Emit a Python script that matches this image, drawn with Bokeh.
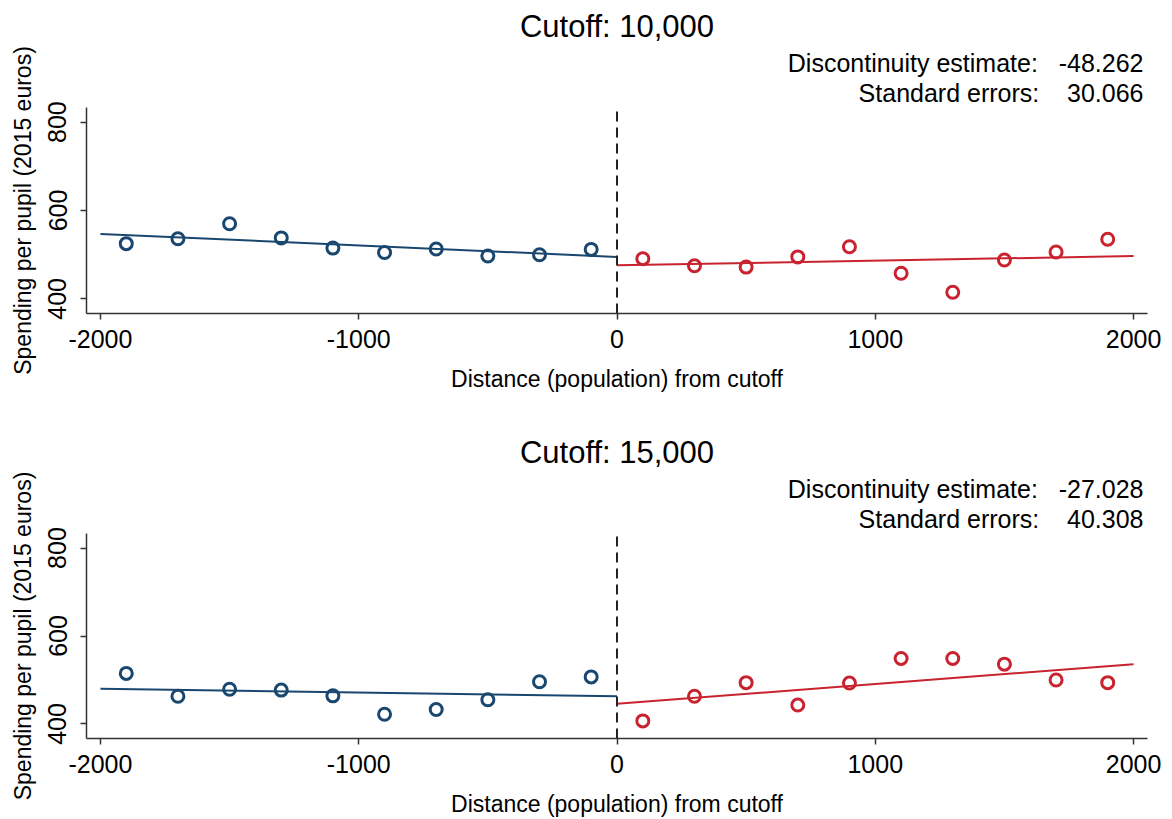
from bokeh.plotting import figure
from bokeh.layouts import column
from bokeh.models import Title, FixedTicker, Range1d, PrintfTickFormatter
from bokeh.embed import file_html
from bokeh.resources import INLINE

# ---- data ----
bins_left = [-1900, -1700, -1500, -1300, -1100, -900, -700, -500, -300, -100]
bins_right = [100, 300, 500, 700, 900, 1100, 1300, 1500, 1700, 1900]

# Cutoff 10,000
p1_left_y = [525, 536, 570, 538, 515, 505, 513, 497, 500, 512]
p1_right_y = [491, 475, 472, 495, 518, 458, 415, 488, 506, 535]
p1_fit_left_x = [-2000, 0]
p1_fit_left_y = [547, 495]
p1_fit_right_x = [0, 2000]
p1_fit_right_y = [476, 497]

# Cutoff 15,000
p2_left_y = [515, 463, 479, 477, 464, 422, 433, 455, 496, 507]
p2_right_y = [407, 463, 494, 443, 493, 549, 549, 536, 500, 494]
p2_fit_left_x = [-2000, 0]
p2_fit_left_y = [480, 463]
p2_fit_right_x = [0, 2000]
p2_fit_right_y = [446, 536]

titles = ["Cutoff: 10,000", "Cutoff: 15,000"]
estimates = ["-48.262", "-27.028"]
std_errors = ["30.066", "40.308"]
x_ticks = [-2000, -1000, 0, 1000, 2000]
y_ticks = [400, 600, 800]
cutoff = 0
y_lo, y_hi = 367, 833
x_lo, x_hi = -2054, 2054

BLUE = "#1a476f"
RED = "#c8232f"
FONT = "Liberation Sans"
NB = "\u00a0"

W = 1172
FRAME_H = 206


def make_panel(height, top, left_y, right_y, fl, fr, title, est, se):
    p = figure(width=W, height=height, output_backend="svg", toolbar_location=None,
               x_range=Range1d(x_lo, x_hi), y_range=Range1d(y_lo, y_hi),
               min_border_left=86, min_border_right=25,
               min_border_top=top, min_border_bottom=height - top - FRAME_H)
    p.outline_line_color = None
    p.xgrid.visible = False
    p.ygrid.visible = False
    p.background_fill_color = "white"
    p.border_fill_color = "white"

    # header texts
    p.title.text = title
    p.title.align = "center"
    p.title.text_font = FONT
    p.title.text_font_size = "31px"
    p.title.text_font_style = "normal"
    p.title.text_color = "black"
    p.title.standoff = 5
    common = dict(align="right", offset=4, text_font=FONT, text_font_size="25px",
                  text_font_style="normal", text_color="black")
    p.add_layout(Title(text="Standard errors:" + NB * 4 + se, standoff=1, **common),
                 "above")
    p.add_layout(Title(text="Discontinuity estimate:" + NB * 3 + est, standoff=0, **common),
                 "above")

    for ax in (p.xaxis[0], p.yaxis[0]):
        ax.axis_line_color = "#333333"
        ax.axis_line_width = 1.5
        ax.major_tick_line_color = "#333333"
        ax.major_tick_line_width = 1.5
        ax.major_tick_out = 6
        ax.major_tick_in = 0
        ax.minor_tick_line_color = None
        ax.major_label_text_font = FONT
        ax.major_label_text_font_size = "25px"
        ax.major_label_text_color = "black"
        ax.axis_label_text_font = FONT
        ax.axis_label_text_font_size = "23px"
        ax.axis_label_text_font_style = "normal"
        ax.axis_label_text_color = "black"

    p.xaxis.ticker = FixedTicker(ticks=x_ticks)
    p.yaxis.ticker = FixedTicker(ticks=y_ticks)
    p.xaxis.formatter = PrintfTickFormatter(format="%d")
    p.yaxis.formatter = PrintfTickFormatter(format="%d")
    p.yaxis.major_label_orientation = "vertical"
    p.xaxis.axis_label = "Distance (population) from cutoff"
    p.yaxis.axis_label = "Spending per pupil (2015 euros)"
    p.xaxis.major_label_standoff = 10
    p.xaxis.axis_label_standoff = 15
    p.yaxis.major_label_standoff = 14
    p.yaxis.axis_label_standoff = 10

    p.line(fl[0], fl[1], color=BLUE, line_width=2)
    p.line(fr[0], fr[1], color=RED, line_width=2)
    p.scatter(bins_left, left_y, marker="circle", size=12, fill_color=None,
              line_color=BLUE, line_width=3)
    p.scatter(bins_right, right_y, marker="circle", size=12, fill_color=None,
              line_color=RED, line_width=3)

    p.segment(x0=[cutoff], y0=[y_lo], x1=[cutoff], y1=[y_hi], line_color="#222222",
              line_width=2, line_dash="10 6")
    return p


p1 = make_panel(410, 107, p1_left_y, p1_right_y,
                (p1_fit_left_x, p1_fit_left_y), (p1_fit_right_x, p1_fit_right_y),
                titles[0], estimates[0], std_errors[0])
p2 = make_panel(409, 123, p2_left_y, p2_right_y,
                (p2_fit_left_x, p2_fit_left_y), (p2_fit_right_x, p2_fit_right_y),
                titles[1], estimates[1], std_errors[1])

layout = column(p1, p2, spacing=0)
open("out.html", "w").write(file_html(layout, INLINE))
